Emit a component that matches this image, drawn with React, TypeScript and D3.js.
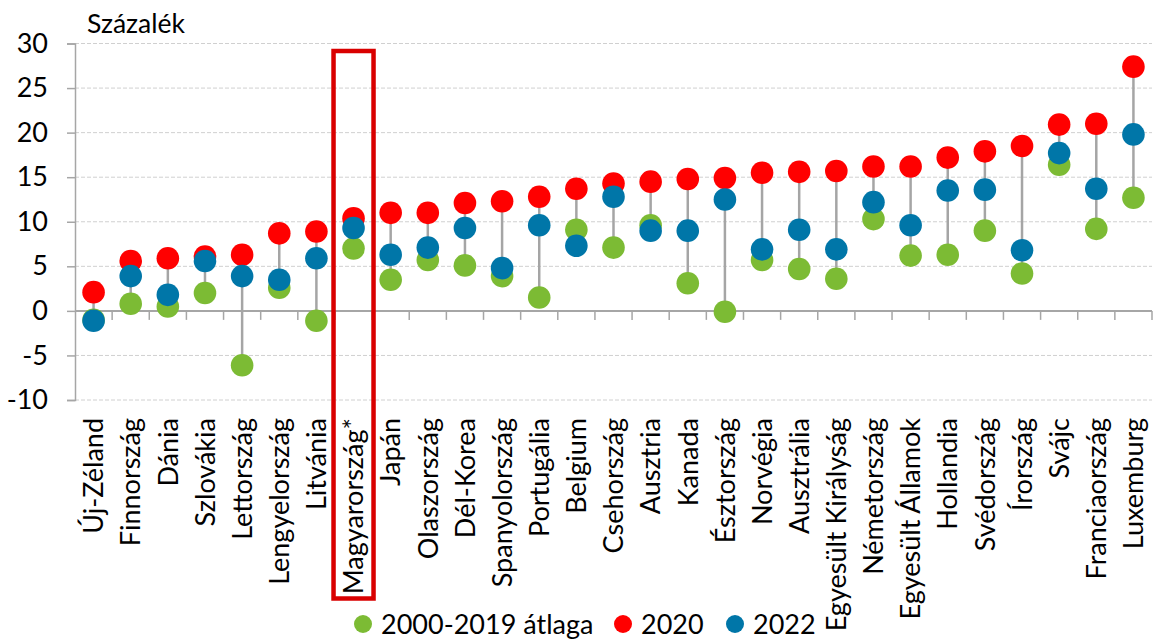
import { useRef, useEffect } from 'react';
import * as d3 from 'd3';

const COUNTRIES = [
  'Új-Zéland', 'Finnország', 'Dánia', 'Szlovákia', 'Lettország', 'Lengyelország', 'Litvánia',
  'Magyarország*', 'Japán', 'Olaszország', 'Dél-Korea', 'Spanyolország', 'Portugália', 'Belgium',
  'Csehország', 'Ausztria', 'Kanada', 'Észtország', 'Norvégia', 'Ausztrália', 'Egyesült Királyság',
  'Németország', 'Egyesült Államok', 'Hollandia', 'Svédország', 'Írország', 'Svájc',
  'Franciaország', 'Luxemburg',
];

// 2000-2019 átlaga
const AVG = [
  -1.0, 0.8, 0.5, 2.0, -6.1, 2.6, -1.1, 7.0, 3.5, 5.7, 5.1, 3.9, 1.5, 9.1,
  7.1, 9.6, 3.1, -0.1, 5.7, 4.7, 3.6, 10.3, 6.2, 6.3, 9.0, 4.2, 16.4, 9.2, 12.7,
];
const Y2020 = [
  2.1, 5.6, 5.9, 6.1, 6.3, 8.7, 8.9, 10.4, 11.0, 11.0, 12.1, 12.3, 12.8, 13.7,
  14.3, 14.5, 14.8, 14.9, 15.5, 15.6, 15.7, 16.2, 16.2, 17.2, 17.9, 18.5, 20.9, 21.0, 27.4,
];
const Y2022 = [
  -1.1, 3.9, 1.8, 5.6, 3.9, 3.5, 5.9, 9.3, 6.3, 7.1, 9.3, 4.8, 9.6, 7.3,
  12.8, 9.0, 9.0, 12.5, 6.9, 9.1, 6.9, 12.2, 9.6, 13.5, 13.6, 6.8, 17.7, 13.7, 19.8,
];

const Y_TICKS = [-10, -5, 0, 5, 10, 15, 20, 25, 30];
const HIGHLIGHT = 'Magyarország*';

const SERIES = [
  { name: '2000-2019 átlaga', values: AVG, color: '#7CBB34' },
  { name: '2020', values: Y2020, color: '#FF0000' },
  { name: '2022', values: Y2022, color: '#0076A8' },
];

const FONT = 'Lato, "Open Sans", sans-serif';

export default function App() {
  const svgRef = useRef<SVGSVGElement>(null);

  useEffect(() => {
    if (!svgRef.current) return;
    const width = 1153;
    const height = 639;
    const margin = { top: 43.5, right: 1, bottom: 239, left: 75 };

    const svg = d3.select(svgRef.current);
    svg.selectAll('*').remove();
    svg.attr('width', width).attr('height', height).attr('viewBox', `0 0 ${width} ${height}`);
    svg.append('rect').attr('width', width).attr('height', height).attr('fill', 'white');

    const x = d3.scaleBand<string>().domain(COUNTRIES).range([margin.left, width - margin.right]);
    const y = d3.scaleLinear().domain([-10, 30]).range([height - margin.bottom, margin.top]);
    const cx = (c: string) => (x(c) ?? 0) + x.bandwidth() / 2;

    // Grid lines
    svg.append('g')
      .selectAll('line')
      .data(Y_TICKS.filter(d => d !== 0))
      .join('line')
      .attr('x1', margin.left).attr('x2', width - margin.right)
      .attr('y1', d => y(d)).attr('y2', d => y(d))
      .attr('stroke', '#d0d0d0').attr('stroke-width', 1).attr('stroke-dasharray', '4,2');

    // Y axis
    svg.append('g')
      .attr('transform', `translate(${margin.left},0)`)
      .call(d3.axisLeft(y).tickValues(Y_TICKS).tickSize(8).tickPadding(19).tickFormat(d => `${d}`))
      .call(g => g.select('.domain').attr('stroke', '#a6a6a6').attr('stroke-width', 1.5))
      .call(g => g.selectAll('.tick line').attr('stroke', '#a6a6a6').attr('stroke-width', 1.5))
      .call(g => g.selectAll('.tick text')
        .attr('fill', '#000').attr('font-size', '27px').attr('font-family', FONT));

    // Zero line with category ticks
    const bounds = COUNTRIES.map(c => x(c) ?? 0).concat([width - margin.right]).slice(1);
    svg.append('line')
      .attr('x1', margin.left).attr('x2', width - margin.right)
      .attr('y1', y(0)).attr('y2', y(0))
      .attr('stroke', '#a6a6a6').attr('stroke-width', 2);
    svg.append('g')
      .selectAll('line')
      .data(bounds)
      .join('line')
      .attr('x1', d => d).attr('x2', d => d)
      .attr('y1', y(0)).attr('y2', y(0) + 9)
      .attr('stroke', '#a6a6a6').attr('stroke-width', 1.5);

    // Connectors
    svg.append('g')
      .selectAll('line')
      .data(COUNTRIES)
      .join('line')
      .attr('x1', d => cx(d)).attr('x2', d => cx(d))
      .attr('y1', (_, i) => y(Math.min(AVG[i], Y2020[i], Y2022[i])))
      .attr('y2', (_, i) => y(Math.max(AVG[i], Y2020[i], Y2022[i])))
      .attr('stroke', '#a5a5a5').attr('stroke-width', 2.5);

    // Dots
    SERIES.forEach(s => {
      svg.append('g')
        .selectAll('circle')
        .data(COUNTRIES)
        .join('circle')
        .attr('cx', d => cx(d))
        .attr('cy', (_, i) => y(s.values[i]))
        .attr('r', 11.3)
        .attr('fill', s.color);
    });

    // Category labels
    svg.append('g')
      .selectAll('text')
      .data(COUNTRIES)
      .join('text')
      .attr('transform', d => `translate(${cx(d)},418) rotate(-90)`)
      .attr('text-anchor', 'end')
      .attr('dy', '0.36em')
      .attr('fill', '#000').attr('font-size', '27px').attr('font-family', FONT)
      .text(d => d);

    // Highlight box
    const hx = cx(HIGHLIGHT);
    svg.append('rect')
      .attr('x', hx - 20).attr('y', 51)
      .attr('width', 40).attr('height', 547.5)
      .attr('fill', 'none').attr('stroke', '#D90000').attr('stroke-width', 4.5);

    // Title
    svg.append('text')
      .attr('x', 87).attr('y', 33)
      .attr('fill', '#000').attr('font-size', '26.5px').attr('font-family', FONT)
      .text('Százalék');

    // Legend
    const legendX = [363, 623, 735];
    SERIES.forEach((s, i) => {
      const g = svg.append('g').attr('transform', `translate(${legendX[i]},624)`);
      g.append('circle').attr('r', 9).attr('fill', s.color);
      g.append('text')
        .attr('x', 18).attr('dy', '0.36em')
        .attr('fill', '#000').attr('font-size', '27px').attr('font-family', FONT)
        .text(s.name);
    });
  }, []);

  return <svg ref={svgRef} style={{ position: 'absolute', left: 0, top: 0 }} />;
}
